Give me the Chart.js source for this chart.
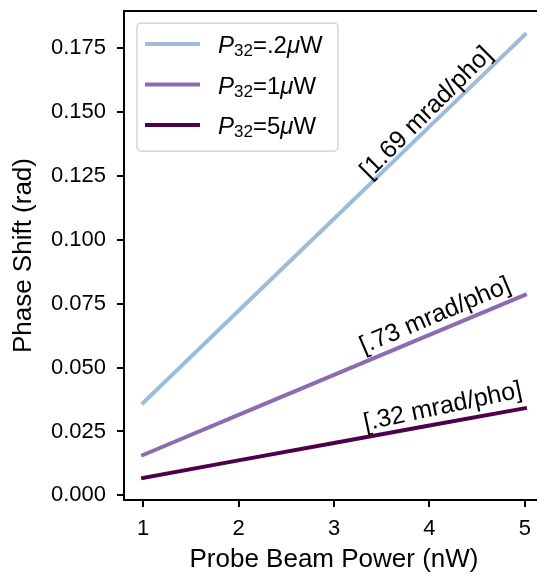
<!DOCTYPE html>
<html>
<head>
<meta charset="utf-8">
<script src="https://cdn.jsdelivr.net/npm/chart.js@4/dist/chart.umd.min.js"></script>
<style>
  html, body { margin: 0; padding: 0; background: #fff; overflow: hidden; }
  #wrap { width: 537px; height: 576px; overflow: hidden; }
</style>
</head>
<body>
<div id="wrap"><canvas id="myChart" width="600" height="576"></canvas></div>
<script>
// probe power (nW) and phase shift (rad) for each pump power P32
var powerNW = [1, 2, 3, 4, 5];
var pumpPower = [".2", "1", "5"];
var shiftLow = [0.0362, 0.0722, 0.1082, 0.1442, 0.1802];
var shiftMid = [0.0158, 0.0315, 0.0471, 0.0628, 0.0784];
var shiftHigh = [0.0068, 0.0137, 0.0205, 0.0273, 0.0341];
var lineColors = ["#9ebcda", "#8c6bb1", "#4d004b"];
var xTicks = [1, 2, 3, 4, 5];
var yTicks = [0, 0.025, 0.05, 0.075, 0.1, 0.125, 0.15, 0.175];
var rateLabels = ["[1.69 mrad/pho]", "[.73 mrad/pho]", "[.32 mrad/pho]"];

// where the slope labels sit (data coords) and their tilt in degrees
var rateSpots = [
  {x: 3.97, y: 0.1496, rot: 45},
  {x: 4.06, y: 0.0702, rot: 23},
  {x: 4.14, y: 0.0346, rot: 12}
];

var FONT = "'Liberation Sans', Arial, sans-serif";
Chart.defaults.font.family = FONT;
Chart.defaults.color = "#000";

function pts(ys) {
  return powerNW.map(function (x, i) { return {x: x, y: ys[i]}; });
}

var series = [shiftLow, shiftMid, shiftHigh];
var datasets = series.map(function (ys, i) {
  return {
    label: "P32=" + pumpPower[i] + "\u03bcW",
    data: pts(ys),
    borderColor: lineColors[i],
    backgroundColor: lineColors[i],
    borderWidth: 4,
    borderCapStyle: "square",
    pointRadius: 0,
    fill: false
  };
});

// top spine + rotated slope labels + legend with subscripts
var extras = {
  id: "extras",
  afterDatasetsDraw: function (chart) {
    var ctx = chart.ctx, xs = chart.scales.x, ys = chart.scales.y;
    ctx.save();
    ctx.font = "25px " + FONT;
    ctx.fillStyle = "#000";
    ctx.textAlign = "center";
    ctx.textBaseline = "middle";
    rateSpots.forEach(function (s, i) {
      ctx.save();
      ctx.translate(xs.getPixelForValue(s.x), ys.getPixelForValue(s.y));
      ctx.rotate(-s.rot * Math.PI / 180);
      ctx.fillText(rateLabels[i], 0, 0);
      ctx.restore();
    });
    ctx.restore();
  },
  afterDraw: function (chart) {
    var ctx = chart.ctx, a = chart.chartArea;
    ctx.save();
    ctx.strokeStyle = "#000";
    ctx.lineWidth = 2;
    ctx.beginPath();
    ctx.moveTo(a.left - 1, a.top);
    ctx.lineTo(a.right, a.top);
    ctx.stroke();

    // legend
    var bx = a.left + 13, by = a.top + 12, bw = 201, bh = 128;
    ctx.beginPath();
    ctx.roundRect(bx, by, bw, bh, 4);
    ctx.fillStyle = "rgba(255,255,255,0.8)";
    ctx.fill();
    ctx.strokeStyle = "#cccccc";
    ctx.lineWidth = 1.2;
    ctx.stroke();

    chart.data.datasets.forEach(function (ds, i) {
      var cy = by + 21 + i * 40.4;
      ctx.strokeStyle = ds.borderColor;
      ctx.lineWidth = 4;
      ctx.lineCap = "butt";
      ctx.beginPath();
      ctx.moveTo(bx + 8, cy);
      ctx.lineTo(bx + 63, cy);
      ctx.stroke();

      var tx = bx + 81, base = cy + 9;
      ctx.fillStyle = "#000";
      ctx.textAlign = "left";
      ctx.textBaseline = "alphabetic";
      var parts = [
        {t: "P", f: "italic 24px " + FONT, dy: 0},
        {t: "32", f: "17px " + FONT, dy: 3},
        {t: "=" + pumpPower[i], f: "24px " + FONT, dy: 0},
        {t: "\u03bc", f: "italic 24px " + FONT, dy: 0},
        {t: "W", f: "24px " + FONT, dy: 0}
      ];
      parts.forEach(function (p) {
        ctx.font = p.f;
        ctx.fillText(p.t, tx, base + p.dy);
        tx += ctx.measureText(p.t).width;
      });
    });
    ctx.restore();
  }
};

new Chart("myChart", {
  type: "line",
  data: {datasets: datasets},
  options: {
    responsive: false,
    animation: false,
    layout: {padding: {top: 0, right: 56, left: 0, bottom: 0}},
    plugins: {legend: {display: false}, tooltip: {enabled: false}},
    scales: {
      x: {
        type: "linear",
        min: 0.8,
        max: 5.2,
        afterBuildTicks: function (s) { s.ticks = xTicks.map(function (v) { return {value: v}; }); },
        afterFit: function (s) { s.height = 76; },
        ticks: {font: {size: 22}, color: "#000", padding: 9, maxRotation: 0,
                callback: function (v) { return String(v); }},
        grid: {drawOnChartArea: false, color: "#000", lineWidth: 2, tickLength: 7},
        border: {color: "#000", width: 2},
        title: {display: true, text: "Probe Beam Power (nW)", font: {size: 26}, color: "#000",
                padding: {top: 0, bottom: 1}}
      },
      y: {
        min: -0.0018,
        max: 0.1894,
        afterBuildTicks: function (s) { s.ticks = yTicks.map(function (v) { return {value: v}; }); },
        afterFit: function (s) { s.width = 124; },
        ticks: {font: {size: 22, lineHeight: 0.01}, color: "#000", padding: 11,
                callback: function (v) { return v.toFixed(3); }},
        grid: {drawOnChartArea: false, color: "#000", lineWidth: 2, tickLength: 7},
        border: {color: "#000", width: 2},
        title: {display: true, text: "Phase Shift (rad)", font: {size: 26}, color: "#000",
                padding: {top: 8, bottom: 0}}
      }
    }
  },
  plugins: [extras]
});
</script>
</body>
</html>
